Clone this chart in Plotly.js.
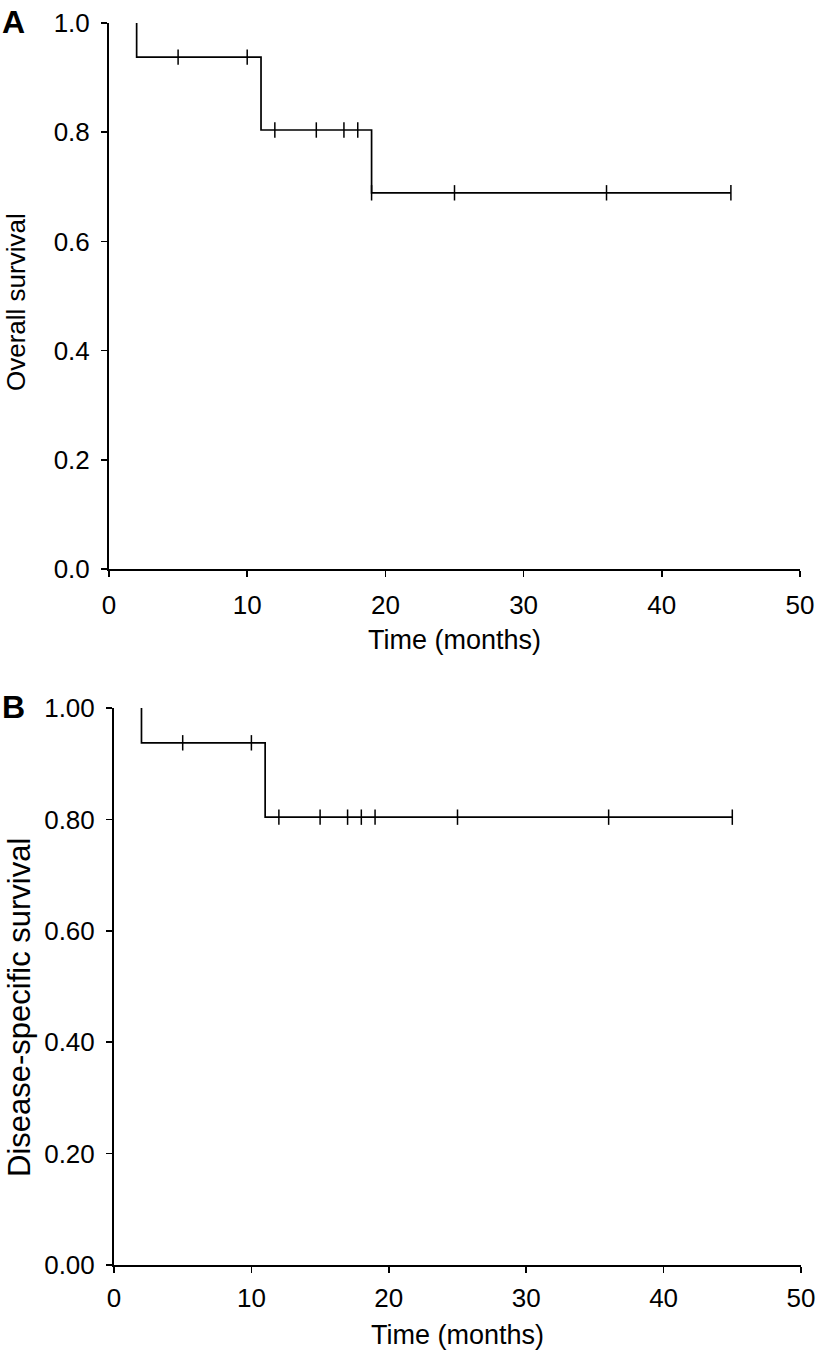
<!DOCTYPE html>
<html>
<head>
<meta charset="utf-8">
<script src="https://cdn.plot.ly/plotly-3.0.1.min.js"></script>
<style>html,body{margin:0;padding:0;background:#fff}#chart{width:819px;height:1351px}</style>
</head>
<body>
<div id="chart"></div>
<script>
// Panel A: overall survival
var startTime = 2;
var endTime = 45;
var eventTimesA = [2, 11, 19];
var survivalA = [0.9375, 0.804, 0.689];
var censorTimesA = [5, 10, 12, 15, 17, 18, 19, 25, 36, 45];

// Panel B: disease-specific survival
var eventTimesB = [2, 11];
var survivalB = [0.9375, 0.804];
var censorTimesB = [5, 10, 12, 15, 17, 18, 19, 25, 36, 45];

var xTicks = [0, 10, 20, 30, 40, 50];
var yTicks = [0, 0.2, 0.4, 0.6, 0.8, 1.0];
var yTickTextA = ['0.0', '0.2', '0.4', '0.6', '0.8', '1.0'];
var yTickTextB = ['0.00', '0.20', '0.40', '0.60', '0.80', '1.00'];

var xTitle = 'Time (months)';
var yTitleA = 'Overall survival';
var yTitleB = 'Disease-specific survival';

function stepLine(ev, surv) {
  var x = [startTime].concat(ev).concat([endTime]);
  var y = [1].concat(surv).concat([surv[surv.length - 1]]);
  return {x: x, y: y};
}
function survAt(t, ev, surv) {
  var s = 1;
  for (var i = 0; i < ev.length; i++) if (ev[i] <= t) s = surv[i];
  return s;
}

var lA = stepLine(eventTimesA, survivalA);
var lB = stepLine(eventTimesB, survivalB);

var lineStyle = {color: '#000', width: 1.7, shape: 'hv'};
var censorMarker = {symbol: 'line-ns', size: 11, line: {color: '#000', width: 1.5}};

var traces = [
  {x: lA.x, y: lA.y, mode: 'lines', line: lineStyle, xaxis: 'x', yaxis: 'y', hoverinfo: 'skip'},
  {x: censorTimesA, y: censorTimesA.map(function(t){return survAt(t, eventTimesA, survivalA);}),
   mode: 'markers', marker: censorMarker, xaxis: 'x', yaxis: 'y', hoverinfo: 'skip'},
  {x: lB.x, y: lB.y, mode: 'lines', line: lineStyle, xaxis: 'x2', yaxis: 'y2', hoverinfo: 'skip'},
  {x: censorTimesB, y: censorTimesB.map(function(t){return survAt(t, eventTimesB, survivalB);}),
   mode: 'markers', marker: censorMarker, xaxis: 'x2', yaxis: 'y2', hoverinfo: 'skip'}
];

var W = 819, H = 1351;
var FAM = 'Liberation Sans, Arial, sans-serif';
var tickFont = {family: FAM, size: 26, color: '#000'};

function xax(dom, anchor, standoff) {
  return {domain: dom, anchor: anchor, range: [0, 50], tickvals: xTicks, ticktext: xTicks.map(String),
    showgrid: false, zeroline: false, showline: true, linecolor: '#000', linewidth: 2,
    ticks: 'outside', ticklen: 6, tickwidth: 1.7, tickcolor: '#000', tickfont: tickFont,
    ticklabelstandoff: standoff, fixedrange: true};
}
function yax(dom, anchor, txt) {
  return {domain: dom, anchor: anchor, range: [0, 1], tickvals: yTicks, ticktext: txt,
    showgrid: false, zeroline: false, showline: true, linecolor: '#000', linewidth: 2,
    ticks: 'outside', ticklen: 6, tickwidth: 1.7, tickcolor: '#000', tickfont: tickFont,
    ticklabelstandoff: 6, fixedrange: true};
}
function px(x) { return x / W; }
function py(y) { return 1 - y / H; }
function ann(text, x, y, size, angle, bold) {
  return {text: bold ? '<b>' + text + '</b>' : text, x: px(x), y: py(y), xref: 'paper', yref: 'paper',
    xanchor: 'center', yanchor: 'middle', textangle: angle || 0, showarrow: false,
    font: {family: FAM, size: size, color: '#000'}};
}

var layout = {
  width: W, height: H,
  margin: {l: 0, r: 0, t: 0, b: 0},
  paper_bgcolor: '#fff', plot_bgcolor: '#fff',
  showlegend: false,
  font: tickFont,
  xaxis: xax([px(109), px(800)], 'y', 6),
  yaxis: yax([py(569), py(23)], 'x', yTickTextA),
  xaxis2: xax([px(114), px(801)], 'y2', 3),
  yaxis2: yax([py(1265), py(708)], 'x2', yTickTextB),
  annotations: [
    ann('A', 13, 22, 32, 0, true),
    ann('B', 13, 707, 32, 0, true),
    ann(xTitle, 454, 640, 27, 0, false),
    ann(xTitle, 457, 1335, 27, 0, false),
    ann(yTitleA, 16, 302, 26, -90, false),
    ann(yTitleB, 19, 1008, 31, -90, false)
  ]
};

Plotly.newPlot('chart', traces, layout, {staticPlot: true, displayModeBar: false});
</script>
</body>
</html>
